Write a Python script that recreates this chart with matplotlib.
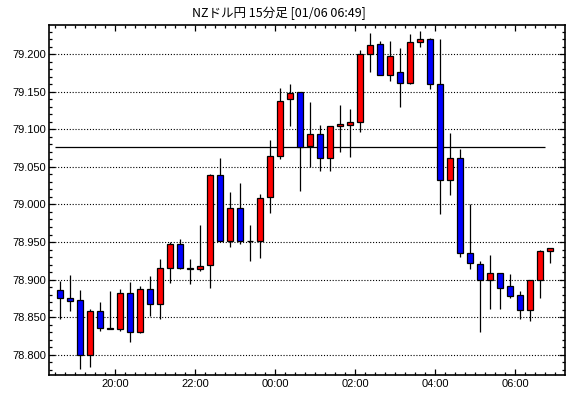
import numpy as np
import pandas as pd
import matplotlib
matplotlib.use("Agg")
import matplotlib.pyplot as plt
from matplotlib.ticker import MultipleLocator, FixedLocator, FormatStrFormatter

plt.rcParams['font.family'] = ['Liberation Sans', 'DejaVu Sans']

# 15分足 (18:30 - 06:45)
opens = [78.886, 78.876, 78.873, 78.799, 78.858, 78.836, 78.834, 78.882, 78.830, 78.888,
         78.868, 78.915, 78.948, 78.916, 78.914, 78.919, 79.039, 78.952, 78.995, 78.952,
         78.952, 79.010, 79.064, 79.140, 79.150, 79.078, 79.094, 79.062, 79.104, 79.106,
         79.110, 79.200, 79.214, 79.172, 79.176, 79.162, 79.216, 79.220, 79.160, 79.033,
         79.062, 78.936, 78.921, 78.900, 78.909, 78.891, 78.880, 78.860, 78.899, 78.938]
highs = [78.898, 78.906, 78.886, 78.861, 78.870, 78.885, 78.888, 78.897, 78.891, 78.905,
         78.928, 78.950, 78.954, 78.927, 78.973, 79.040, 79.062, 79.017, 79.029, 78.973,
         79.014, 79.086, 79.155, 79.161, 79.150, 79.137, 79.106, 79.105, 79.133, 79.127,
         79.206, 79.229, 79.218, 79.218, 79.209, 79.227, 79.231, 79.222, 79.221, 79.095,
         79.074, 79.001, 78.925, 78.933, 78.909, 78.907, 78.885, 78.899, 78.940, 78.942]
lows = [78.848, 78.858, 78.781, 78.784, 78.832, 78.834, 78.832, 78.817, 78.829, 78.851,
        78.847, 78.896, 78.914, 78.894, 78.912, 78.889, 78.952, 78.944, 78.948, 78.925,
        78.929, 78.988, 79.061, 79.105, 79.018, 79.050, 79.044, 79.044, 79.070, 79.063,
        79.096, 79.177, 79.172, 79.164, 79.130, 79.160, 79.210, 79.154, 78.987, 79.012,
        78.930, 78.914, 78.830, 78.861, 78.861, 78.875, 78.848, 78.845, 78.876, 78.922]
closes = [78.876, 78.872, 78.799, 78.858, 78.836, 78.834, 78.882, 78.830, 78.888, 78.868,
          78.915, 78.947, 78.916, 78.914, 78.918, 79.039, 78.952, 78.995, 78.952, 78.952,
          79.008, 79.064, 79.138, 79.148, 79.077, 79.094, 79.062, 79.104, 79.107, 79.110,
          79.200, 79.212, 79.172, 79.198, 79.162, 79.216, 79.220, 79.160, 79.033, 79.062,
          78.936, 78.922, 78.900, 78.909, 78.889, 78.878, 78.860, 78.899, 78.938, 78.942]
ref_level = 79.076
title = "NZドル円 15分足 [01/06 06:49]"

times = pd.date_range("2025-01-05 18:30", periods=len(opens), freq="15min")

o = np.array(opens)
h = np.array(highs)
l = np.array(lows)
c = np.array(closes)
x = np.arange(len(o))

fig = plt.figure(figsize=(5.7, 3.98), dpi=100, facecolor='white')
ax = fig.add_axes([0.0865, 0.0578, 0.9912 - 0.0865, 0.9372 - 0.0578])

# 目盛り用の罫線
ax.yaxis.grid(True, which='major', linestyle=(0, (1, 1.6)), color='black', linewidth=0.8)
ax.set_axisbelow(True)

ax.hlines(ref_level, x[0] - 0.5, x[-2] + 0.5, color='black', linewidth=0.9, zorder=2)

up = c >= o
colors = np.where(up, '#ff0000', '#0000ff')
ax.vlines(x, l, h, color='black', linewidth=0.9, zorder=3)
ax.bar(x, np.abs(c - o), bottom=np.minimum(o, c), width=0.62, color=colors,
       edgecolor='black', linewidth=0.9, zorder=4)

ax.set_xlim(-1.1, 50.47)
ax.set_ylim(78.7727, 79.2393)

# x軸: 2時間ごとにラベル、15分ごとに目盛り
major_pos = [i - 0.5 for i, t in enumerate(times) if t.minute == 0 and t.hour % 2 == 0]
major_lab = [times[int(p + 0.5)].strftime("%H:%M") for p in major_pos]
ax.xaxis.set_major_locator(FixedLocator(major_pos))
ax.set_xticklabels(major_lab)
ax.xaxis.set_minor_locator(FixedLocator(np.arange(-0.5, len(o) + 0.5, 1)))

ax.yaxis.set_major_locator(MultipleLocator(0.05))
ax.yaxis.set_minor_locator(MultipleLocator(0.01))
ax.yaxis.set_major_formatter(FormatStrFormatter('%.3f'))

ax.tick_params(which='both', direction='in', top=True, right=True, colors='black',
               labelsize=8, width=0.9)
ax.tick_params(which='major', length=4)
ax.tick_params(which='minor', length=2.2)
ax.tick_params(axis='y', pad=2)
ax.tick_params(axis='x', pad=3)

for s in ax.spines.values():
    s.set_linewidth(1.2)
    s.set_color('black')

fig.text(0.49, 0.967, title, ha='center', va='center', fontsize=9,
         family=['Noto Sans CJK JP', 'DejaVu Sans'])

fig.savefig("out.png", dpi=100, facecolor='white')
